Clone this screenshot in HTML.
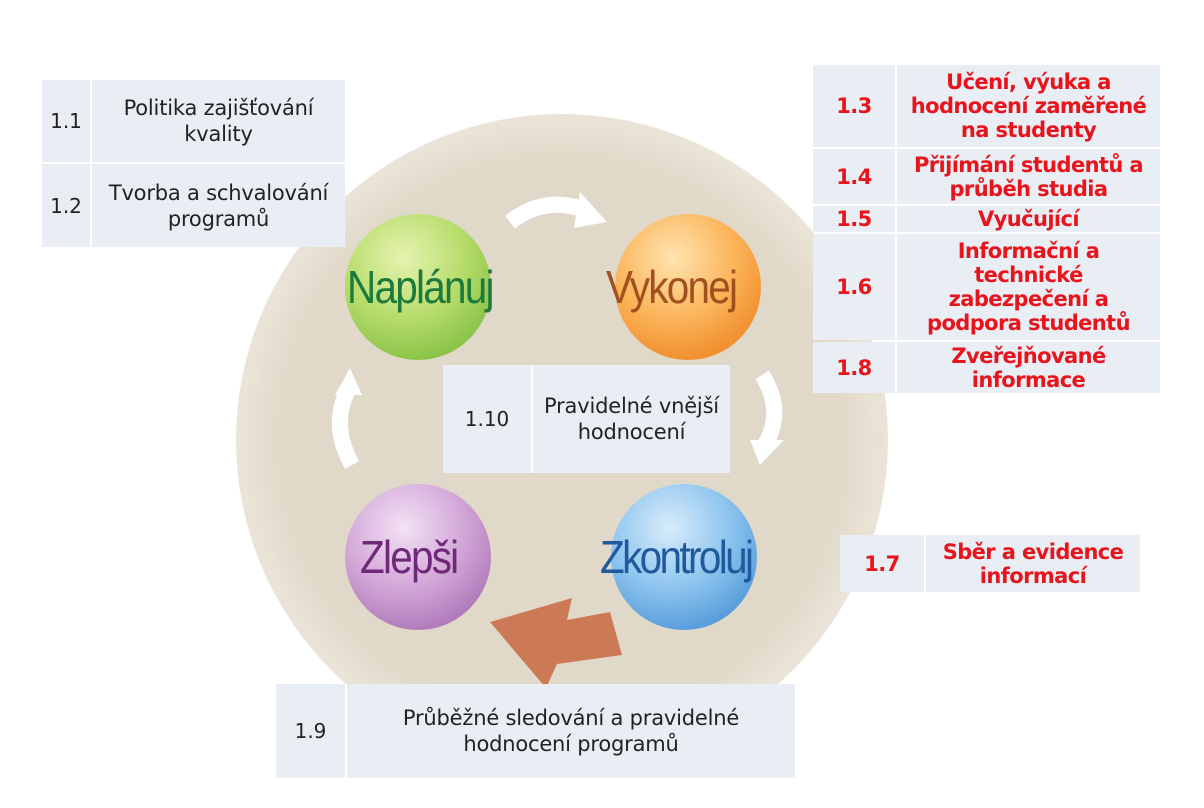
<!DOCTYPE html>
<html><head><meta charset="utf-8">
<style>
body{margin:0;width:1204px;height:808px;background:#fff;position:relative;overflow:hidden;font-family:"DejaVu Sans","Liberation Sans",sans-serif;}
.t{position:absolute;display:flex;background:#e9edf4;}
.t .n{display:flex;align-items:center;justify-content:center;border-right:2px solid #fff;color:#222;font-size:20px;}
.t .d{flex:1;display:flex;align-items:center;justify-content:center;text-align:center;color:#222;font-size:21px;line-height:26px;letter-spacing:-0.2px;}
.r .n,.r .d{color:#e8141c;font-weight:bold;font-size:21px;letter-spacing:-0.6px;line-height:24px;}
.lbl{position:absolute;font-family:"Liberation Sans",sans-serif;font-size:46px;letter-spacing:-2px;transform:scaleX(0.88);transform-origin:left top;}
</style></head><body>
<svg width="1204" height="808" style="position:absolute;left:0;top:0">
<defs>
<clipPath id="cc"><rect x="0" y="0" width="1204" height="686"/></clipPath>
<radialGradient id="bg" cx="0.5" cy="0.5" r="0.5"><stop offset="0.85" stop-color="#e0d8c8"/><stop offset="1" stop-color="#ebe5d9"/></radialGradient>
<radialGradient id="g" cx="0.4" cy="0.3" r="0.7"><stop offset="0" stop-color="#e6f3b0"/><stop offset="0.6" stop-color="#b6dc6a"/><stop offset="1" stop-color="#8cc44a"/></radialGradient>
<radialGradient id="o" cx="0.4" cy="0.3" r="0.7"><stop offset="0" stop-color="#ffe4b0"/><stop offset="0.6" stop-color="#fbb45a"/><stop offset="1" stop-color="#f1902e"/></radialGradient>
<radialGradient id="p" cx="0.4" cy="0.3" r="0.7"><stop offset="0" stop-color="#f2e2f4"/><stop offset="0.6" stop-color="#d2a6d8"/><stop offset="1" stop-color="#b27cbc"/></radialGradient>
<radialGradient id="b" cx="0.4" cy="0.3" r="0.7"><stop offset="0" stop-color="#d8ecfb"/><stop offset="0.6" stop-color="#8cc4ee"/><stop offset="1" stop-color="#5a9fdc"/></radialGradient>
</defs>
<circle cx="562" cy="440" r="326" fill="url(#bg)" clip-path="url(#cc)"/>
<circle cx="418" cy="287" r="73" fill="url(#g)"/>
<circle cx="688" cy="287" r="73" fill="url(#o)"/>
<circle cx="418" cy="557" r="73" fill="url(#p)"/>
<circle cx="684" cy="557" r="73" fill="url(#b)"/>
<path d="M510 222 Q545 195 585 210" stroke="#fff" stroke-width="16" fill="none"/>
<polygon points="580,192 607,222 574,228" fill="#fff"/>
<path d="M762 375 Q785 410 765 445" stroke="#fff" stroke-width="16" fill="none"/>
<polygon points="750,440 784,440 760,465" fill="#fff"/>
<path d="M352 465 Q330 425 348 390" stroke="#fff" stroke-width="16" fill="none"/>
<polygon points="335,395 362,395 350,368" fill="#fff"/>
<polygon points="490,622 572,598 567,620 610,612 622,655 557,664 546,688" fill="#cc7a56"/>
</svg>
<div class="lbl" style="left:347px;top:260px;color:#1d7a3c">Naplánuj</div>
<div class="lbl" style="left:606px;top:260px;color:#a2501e">Vykonej</div>
<div class="lbl" style="left:360px;top:530px;color:#6e2a78">Zlepši</div>
<div class="lbl" style="left:600px;top:530px;color:#1f5a9c;letter-spacing:-3px">Zkontroluj</div>

<div class="t" style="left:42px;top:80px;width:303px;height:82px"><div class="n" style="width:48px">1.1</div><div class="d">Politika zajišťování<br>kvality</div></div>
<div class="t" style="left:42px;top:164px;width:303px;height:83px"><div class="n" style="width:48px">1.2</div><div class="d">Tvorba a schvalování<br>programů</div></div>

<div class="t" style="left:443px;top:365px;width:287px;height:108px"><div class="n" style="width:88px">1.10</div><div class="d">Pravidelné vnější<br>hodnocení</div></div>
<div class="t" style="left:276px;top:684px;width:519px;height:94px"><div class="n" style="width:69px">1.9</div><div class="d">Průběžné sledování a pravidelné<br>hodnocení programů</div></div>

<div class="t r" style="left:840px;top:535px;width:300px;height:57px"><div class="n" style="width:84px">1.7</div><div class="d">Sběr a evidence<br>informací</div></div>

<div style="position:absolute;left:813px;top:65px;width:347px;height:328px;">
<div class="t r" style="left:0;top:0;width:347px;height:82px"><div class="n" style="width:82px">1.3</div><div class="d">Učení, výuka a<br>hodnocení zaměřené<br>na studenty</div></div>
<div class="t r" style="left:0;top:84px;width:347px;height:55px"><div class="n" style="width:82px">1.4</div><div class="d">Přijímání studentů a<br>průběh studia</div></div>
<div class="t r" style="left:0;top:141px;width:347px;height:26px"><div class="n" style="width:82px">1.5</div><div class="d">Vyučující</div></div>
<div class="t r" style="left:0;top:169px;width:347px;height:106px"><div class="n" style="width:82px">1.6</div><div class="d">Informační a<br>technické<br>zabezpečení a<br>podpora studentů</div></div>
<div class="t r" style="left:0;top:277px;width:347px;height:51px"><div class="n" style="width:82px">1.8</div><div class="d">Zveřejňované<br>informace</div></div>
</div>
</body></html>
